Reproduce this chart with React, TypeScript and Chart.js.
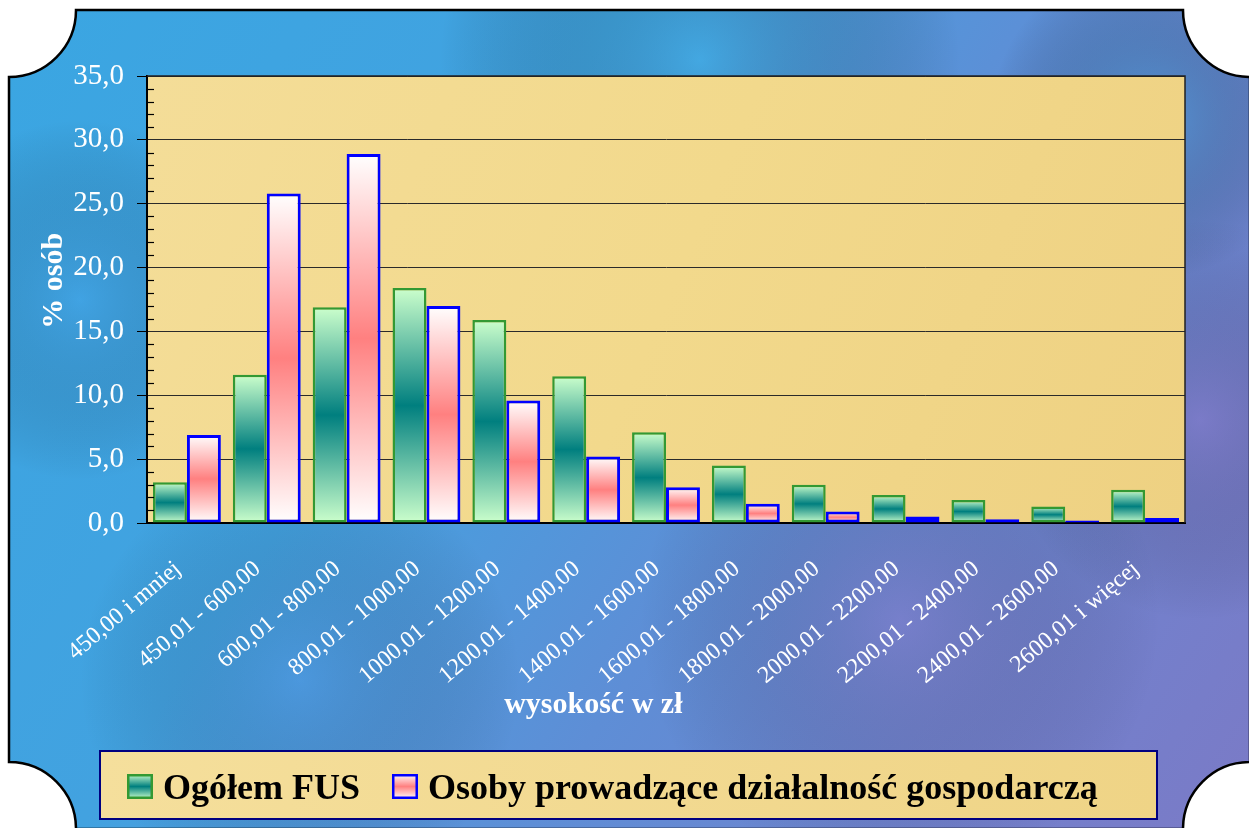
import React, { useEffect, useRef } from 'react';
import { Chart, registerables } from 'chart.js';

Chart.register(...registerables);

const categories = [
  '450,00 i mniej',
  '450,01 - 600,00',
  '600,01 - 800,00',
  '800,01 - 1000,00',
  '1000,01 - 1200,00',
  '1200,01 - 1400,00',
  '1400,01 - 1600,00',
  '1600,01 - 1800,00',
  '1800,01 - 2000,00',
  '2000,01 - 2200,00',
  '2200,01 - 2400,00',
  '2400,01 - 2600,00',
  '2600,01 i więcej',
];
const ogolemFUS = [3.2, 11.6, 16.9, 18.4, 15.9, 11.5, 7.1, 4.5, 3.0, 2.2, 1.8, 1.3, 2.6];
const osobyDG = [6.9, 25.8, 28.9, 17.0, 9.6, 5.2, 2.8, 1.5, 0.9, 0.5, 0.3, 0.2, 0.4];
const yTickLabels = ['0,0', '5,0', '10,0', '15,0', '20,0', '25,0', '30,0', '35,0'];
const seriesLabels = ['Ogółem FUS', 'Osoby prowadzące działalność gospodarczą'];
const xTitle = 'wysokość w zł';
const yTitle = '% osób';

const SERIF = "'Liberation Serif', 'Times New Roman', serif";
const GREEN_STOPS = ['#ccffcc', '#007f7f', '#ccffcc'];
const RED_STOPS = ['#ffffff', '#ff8080', '#ffffff'];

function barGradient(c: any, stops: string[]) {
  const chart = c.chart;
  if (!chart.chartArea || c.type !== 'data' || !chart.scales.y) return stops[1];
  const y = chart.scales.y;
  const top = y.getPixelForValue(c.raw);
  let base = y.getPixelForValue(0);
  if (Math.abs(base - top) < 1) base = top + 1;
  const g = chart.ctx.createLinearGradient(0, top, 0, base);
  g.addColorStop(0, stops[0]);
  g.addColorStop(0.5, stops[1]);
  g.addColorStop(1, stops[2]);
  return g;
}

const decorPlugin = {
  id: 'decor',
  beforeDraw(chart: any) {
    const { ctx, width, height, chartArea } = chart;
    ctx.save();
    ctx.fillStyle = '#ffffff';
    ctx.fillRect(0, 0, width, height);
    const L = 9, T = 10, R = width + 1, B = height + 1, r = 67;
    ctx.beginPath();
    ctx.moveTo(L + r, T);
    ctx.lineTo(R - r, T);
    ctx.arc(R, T, r, Math.PI, Math.PI / 2, true);
    ctx.lineTo(R, B - r);
    ctx.arc(R, B, r, -Math.PI / 2, -Math.PI, true);
    ctx.lineTo(L + r, B);
    ctx.arc(L, B, r, 0, -Math.PI / 2, true);
    ctx.lineTo(L, T + r);
    ctx.arc(L, T, r, Math.PI / 2, 0, true);
    ctx.closePath();
    const bg = ctx.createLinearGradient(0, 0, width, height);
    bg.addColorStop(0, '#3aa6e2');
    bg.addColorStop(0.35, '#42a2e0');
    bg.addColorStop(0.6, '#5e8ed6');
    bg.addColorStop(0.85, '#7380cc');
    bg.addColorStop(1, '#7b7ac6');
    ctx.fillStyle = bg;
    ctx.fill();
    ctx.save();
    ctx.clip();
    const blobs: [number, number, number, string][] = [
      [700, 60, 260, 'rgba(60,180,230,0.45)'],
      [1150, 120, 160, 'rgba(70,170,230,0.5)'],
      [1200, 420, 200, 'rgba(140,110,190,0.35)'],
      [900, 620, 260, 'rgba(150,110,190,0.3)'],
      [300, 680, 220, 'rgba(80,140,220,0.3)'],
      [80, 300, 180, 'rgba(70,160,230,0.35)'],
    ];
    for (const [bx, by, br, col] of blobs) {
      const rg = ctx.createRadialGradient(bx, by, 0, bx, by, br);
      rg.addColorStop(0, col);
      rg.addColorStop(1, 'rgba(0,0,0,0)');
      ctx.fillStyle = rg;
      ctx.fillRect(bx - br, by - br, br * 2, br * 2);
    }
    ctx.restore();
    ctx.lineWidth = 2.5;
    ctx.strokeStyle = '#000000';
    ctx.stroke();

    // plot area
    const pa = ctx.createLinearGradient(chartArea.left, chartArea.top, chartArea.right, chartArea.bottom);
    pa.addColorStop(0, '#f4dd98');
    pa.addColorStop(0.5, '#f2d98c');
    pa.addColorStop(1, '#eed182');
    ctx.fillStyle = pa;
    ctx.fillRect(chartArea.left, chartArea.top, chartArea.right - chartArea.left, chartArea.bottom - chartArea.top);
    ctx.restore();
  },
  afterDraw(chart: any) {
    const { ctx, chartArea } = chart;
    const y = chart.scales.y;
    ctx.save();
    // top & right border of plot area
    ctx.strokeStyle = '#222222';
    ctx.lineWidth = 1.5;
    ctx.beginPath();
    ctx.moveTo(chartArea.left, chartArea.top);
    ctx.lineTo(chartArea.right, chartArea.top);
    ctx.lineTo(chartArea.right, chartArea.bottom);
    ctx.stroke();
    // minor ticks inside
    ctx.strokeStyle = '#000000';
    ctx.lineWidth = 1.2;
    for (let v = 0; v <= 35; v++) {
      if (v % 5 === 0) continue;
      const py = Math.round(y.getPixelForValue(v)) + 0.5;
      ctx.beginPath();
      ctx.moveTo(chartArea.left, py);
      ctx.lineTo(chartArea.left + 7, py);
      ctx.stroke();
    }
    // axis titles
    ctx.fillStyle = '#ffffff';
    ctx.font = `bold 30px ${SERIF}`;
    ctx.textAlign = 'center';
    ctx.textBaseline = 'alphabetic';
    ctx.fillText(xTitle, chartArea.left + (chartArea.right - chartArea.left) * 0.43, 713);
    ctx.save();
    ctx.translate(62, chartArea.top + (chartArea.bottom - chartArea.top) * 0.458);
    ctx.rotate(-Math.PI / 2);
    ctx.fillText(yTitle, 0, 0);
    ctx.restore();

    // legend
    const bx = 100, by = 751, bw = 1057, bh = 68;
    const lg = ctx.createLinearGradient(bx, by, bx + bw, by + bh);
    lg.addColorStop(0, '#f5df9c');
    lg.addColorStop(1, '#efd486');
    ctx.fillStyle = lg;
    ctx.fillRect(bx, by, bw, bh);
    ctx.strokeStyle = '#000080';
    ctx.lineWidth = 2;
    ctx.strokeRect(bx, by, bw, bh);
    ctx.font = `bold 36px ${SERIF}`;
    ctx.textAlign = 'left';
    let x = 127;
    const sy = 774, sw = 26, sh = 25;
    chart.data.datasets.forEach((ds: any, i: number) => {
      const stops = i === 0 ? GREEN_STOPS : RED_STOPS;
      const g = ctx.createLinearGradient(0, sy, 0, sy + sh);
      g.addColorStop(0, stops[0]);
      g.addColorStop(0.5, stops[1]);
      g.addColorStop(1, stops[2]);
      ctx.fillStyle = g;
      ctx.fillRect(x, sy, sw, sh);
      ctx.strokeStyle = ds.borderColor;
      ctx.lineWidth = 2.5;
      ctx.strokeRect(x + 1.25, sy + 1.25, sw - 2.5, sh - 2.5);
      x += sw + 10;
      ctx.fillStyle = '#000000';
      ctx.fillText(ds.label, x, 799);
      x += ctx.measureText(ds.label).width + 32;
    });
    ctx.restore();
  },
};

export default function App() {
  const ref = useRef<HTMLCanvasElement | null>(null);
  useEffect(() => {
    if (!ref.current) return;
    const chart = new Chart(ref.current, {
      type: 'bar',
      data: {
        labels: categories,
        datasets: [
          {
            label: seriesLabels[0],
            data: ogolemFUS,
            backgroundColor: (c: any) => barGradient(c, GREEN_STOPS),
            borderColor: '#339933',
            borderWidth: 2.5,
            borderSkipped: false,
            barPercentage: 1.0,
            categoryPercentage: 0.85,
          },
          {
            label: seriesLabels[1],
            data: osobyDG,
            backgroundColor: (c: any) => barGradient(c, RED_STOPS),
            borderColor: '#0000ff',
            borderWidth: 3,
            borderSkipped: false,
            barPercentage: 1.0,
            categoryPercentage: 0.85,
          },
        ],
      },
      options: {
        responsive: false,
        animation: false,
        layout: { padding: { left: 0, right: 64, top: 76, bottom: 70 } },
        plugins: {
          legend: { display: false },
          tooltip: { enabled: false },
          title: { display: false },
        },
        scales: {
          x: {
            grid: { display: false, drawTicks: false },
            border: { display: true, color: '#000000', width: 2 },
            ticks: {
              color: '#ffffff',
              font: { family: SERIF, size: 24 },
              minRotation: 40,
              maxRotation: 40,
              autoSkip: false,
              padding: 32,
              labelOffset: -9,
            },
            afterFit: (s: any) => {
              s.height = 235;
            },
          },
          y: {
            min: 0,
            max: 35,
            ticks: {
              stepSize: 5,
              color: '#ffffff',
              font: { family: SERIF, size: 29 },
              padding: 13,
              callback: (_v: any, i: number) => yTickLabels[i],
            },
            grid: {
              color: '#2a2a2a',
              lineWidth: 1,
              tickColor: '#000000',
              tickLength: 10,
            },
            border: { display: true, color: '#000000', width: 2 },
            afterFit: (s: any) => {
              s.width = 147;
            },
          },
        },
      },
      plugins: [decorPlugin],
    });
    return () => chart.destroy();
  }, []);
  return (
    <div style={{ position: 'absolute', left: 0, top: 0, width: 1249, height: 828 }}>
      <canvas ref={ref} width={1249} height={828} style={{ display: 'block' }} />
    </div>
  );
}
